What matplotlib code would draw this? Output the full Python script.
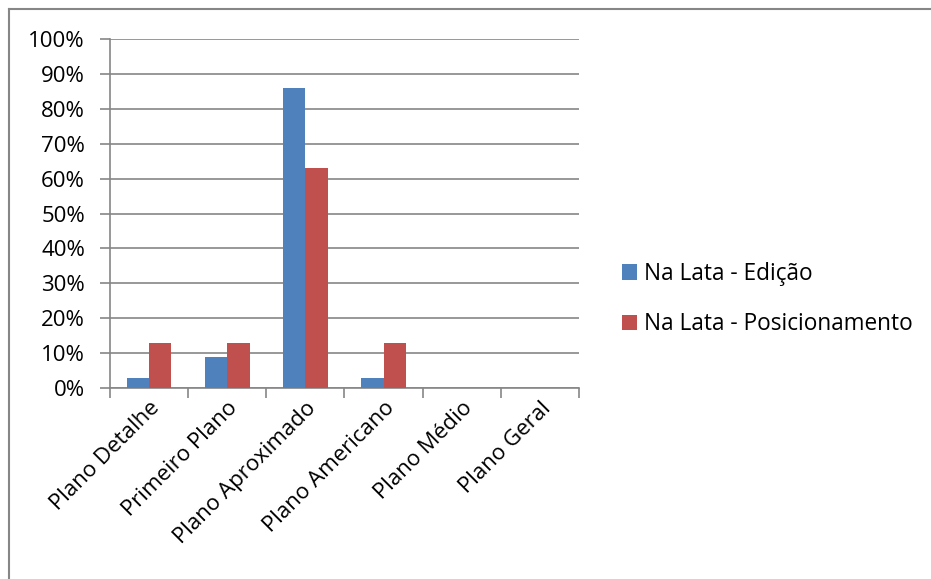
import matplotlib.pyplot as plt
import numpy as np
from matplotlib.lines import Line2D

categories = ["Plano Detalhe", "Primeiro Plano", "Plano Aproximado",
              "Plano Americano", "Plano Médio", "Plano Geral"]
edicao = [3, 9, 86, 3, 0, 0]
posicionamento = [13, 13, 63, 13, 0, 0]
series_names = ["Na Lata - Edição", "Na Lata - Posicionamento"]
yticks = list(range(0, 101, 10))

plt.rcParams["font.family"] = ["Open Sans", "DejaVu Sans"]

fig = plt.figure(figsize=(9.31, 5.79), dpi=100)
ax = fig.add_axes([110 / 931, 1 - 388 / 579, (579 - 110) / 931, (388 - 39) / 579])

x = np.arange(len(categories))
w = 1 / 3.5
ax.bar(x - w / 2, edicao, w, color="#4F81BD", label=series_names[0], zorder=3)
ax.bar(x + w / 2, posicionamento, w, color="#C0504D", label=series_names[1], zorder=3)

ax.set_xlim(-0.5, len(categories) - 0.5)
ax.set_ylim(0, 100)
ax.set_yticks(yticks)
ax.set_yticklabels([f"{v}%" for v in yticks], fontsize=16)
ax.grid(axis="y", color="#868686", linewidth=1.2, zorder=0)

# category labels, rotated
ax.set_xticks(x)
ax.set_xticklabels(categories, rotation=45, ha="right", rotation_mode="anchor", fontsize=16)
ax.tick_params(axis="x", length=0, pad=7)
# tick marks at category boundaries
ax.set_xticks(np.arange(-0.5, len(categories), 1), minor=True)
ax.tick_params(axis="x", which="minor", length=7, color="#868686", width=1.2)
ax.tick_params(axis="y", length=7, color="#868686", width=1.2, pad=11)

for side in ["top", "right"]:
    ax.spines[side].set_visible(False)
for side in ["left", "bottom"]:
    ax.spines[side].set_color("#868686")
    ax.spines[side].set_linewidth(1.2)

fig.legend(loc="center left", bbox_to_anchor=(622 / 931, 1 - 299 / 579), frameon=False,
           fontsize=16.3, handlelength=0.65, handleheight=0.65, handletextpad=0.3,
           labelspacing=1.15, borderpad=0, borderaxespad=0)

# chart border (top and left)
fig.add_artist(Line2D([9 / 931, 9 / 931], [1 - 9 / 579, 0], color="#868686", linewidth=1.5))
fig.add_artist(Line2D([9 / 931, 1], [1 - 9 / 579, 1 - 9 / 579], color="#868686", linewidth=1.5))

fig.savefig("out.png", dpi=100)
